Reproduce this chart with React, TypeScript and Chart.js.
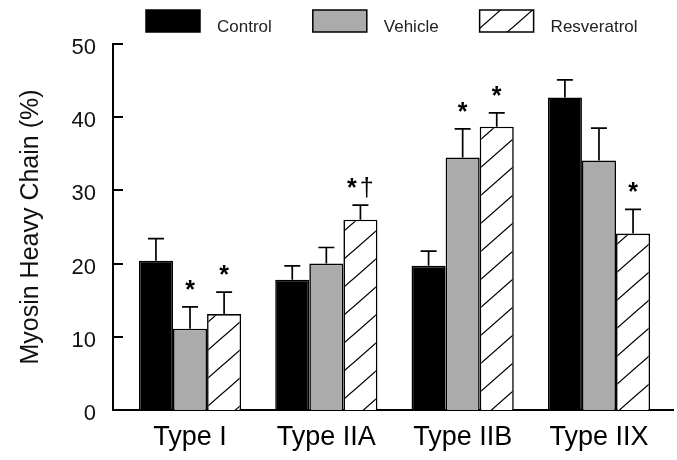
import React, { useEffect, useRef } from "react";
import { Chart, registerables } from "chart.js";

Chart.register(...registerables);

// ---- data ----
const categories = ["Type I", "Type IIA", "Type IIB", "Type IIX"];
const seriesNames = ["Control", "Vehicle", "Resveratrol"];
const controlValues = [20.4, 17.8, 19.7, 42.7];
const controlErrors = [3.0, 1.9, 2.0, 2.4];
const vehicleValues = [11.1, 20.0, 34.5, 34.1];
const vehicleErrors = [3.0, 2.2, 3.9, 4.4];
const resveratrolValues = [13.1, 26.0, 38.7, 24.1];
const resveratrolErrors = [3.0, 2.0, 1.9, 3.3];
const controlMarks = ["", "", "", ""];
const vehicleMarks = ["*", "", "*", ""];
const resveratrolMarks = ["*", "*\u2020", "*", "*"];
const yTicks = [0, 10, 20, 30, 40, 50];
const yTitle = "Myosin Heavy Chain (%)";

const FONT = '"Liberation Sans", Arial, Helvetica, sans-serif';

function makeHatch(): CanvasPattern | string {
  const c = document.createElement("canvas");
  const w = 32;
  const h = 28;
  c.width = w;
  c.height = h;
  const g = c.getContext("2d");
  if (!g) return "#fff";
  g.fillStyle = "#ffffff";
  g.fillRect(0, 0, w, h);
  g.strokeStyle = "#000000";
  g.lineWidth = 1.3;
  g.beginPath();
  for (const k of [-1, 0, 1]) {
    g.moveTo(k * w - w, 2 * h);
    g.lineTo(k * w + 2 * w, -h);
  }
  g.stroke();
  const p = g.createPattern(c, "repeat");
  return p || "#fff";
}

const errorsBySeries = [controlErrors, vehicleErrors, resveratrolErrors];
const marksBySeries = [controlMarks, vehicleMarks, resveratrolMarks];

const errorBarPlugin = {
  id: "errorBars",
  afterDatasetsDraw(chart: any) {
    const ctx = chart.ctx;
    const yScale = chart.scales.y;
    ctx.save();
    chart.data.datasets.forEach((ds: any, di: number) => {
      const meta = chart.getDatasetMeta(di);
      meta.data.forEach((bar: any, j: number) => {
        const v = ds.data[j].y;
        const e = errorsBySeries[di][j];
        const top = yScale.getPixelForValue(v + e);
        const x = bar.x;
        ctx.strokeStyle = "#000";
        ctx.lineWidth = 1.7;
        ctx.beginPath();
        ctx.moveTo(x, bar.y);
        ctx.lineTo(x, top);
        ctx.moveTo(x - 8, top);
        ctx.lineTo(x + 8, top);
        ctx.stroke();
        const mark = marksBySeries[di][j];
        if (mark) {
          const starFont = `bold 25px ${FONT}`;
          const otherFont = `25px ${FONT}`;
          ctx.fillStyle = "#000";
          ctx.textAlign = "left";
          ctx.textBaseline = "alphabetic";
          ctx.font = starFont;
          const m = ctx.measureText("*");
          const asc = m.actualBoundingBoxAscent;
          const desc = m.actualBoundingBoxDescent;
          const center = top - 22;
          const baseline = center + (asc - desc) / 2;
          const chars = Array.from(mark);
          const gap = 3;
          const widths = chars.map((ch) => {
            ctx.font = ch === "*" ? starFont : otherFont;
            return ctx.measureText(ch).width;
          });
          const total = widths.reduce((a, b) => a + b, 0) + gap * (chars.length - 1);
          let cx = x - total / 2;
          chars.forEach((ch, k) => {
            ctx.font = ch === "*" ? starFont : otherFont;
            ctx.fillText(ch, cx, baseline);
            cx += widths[k] + gap;
          });
        }
      });
    });
    ctx.restore();
  },
};

const innerTicksPlugin = {
  id: "innerTicks",
  afterDraw(chart: any) {
    const ctx = chart.ctx;
    const y = chart.scales.y;
    const left = chart.chartArea.left;
    ctx.save();
    ctx.strokeStyle = "#000";
    ctx.lineWidth = 2;
    ctx.beginPath();
    y.ticks.forEach((t: any) => {
      const py = Math.round(y.getPixelForValue(t.value));
      ctx.moveTo(left - 1, py);
      ctx.lineTo(left + 10, py);
    });
    ctx.stroke();
    ctx.restore();
  },
};

const legendPlugin = {
  id: "boxLegend",
  afterDraw(chart: any) {
    const ctx = chart.ctx;
    ctx.save();
    ctx.font = `17px ${FONT}`;
    ctx.textAlign = "left";
    ctx.textBaseline = "alphabetic";
    let x = 146;
    const boxW = 54;
    const boxH = 22;
    const boxTop = 10;
    chart.data.datasets.forEach((ds: any) => {
      ctx.fillStyle = ds.backgroundColor;
      ctx.fillRect(x, boxTop, boxW, boxH);
      ctx.strokeStyle = "#000";
      ctx.lineWidth = 1.5;
      ctx.strokeRect(x, boxTop, boxW, boxH);
      ctx.fillStyle = "#222";
      ctx.fillText(ds.label, x + boxW + 17, 32);
      x += boxW + 17 + ctx.measureText(ds.label).width + 41;
    });
    ctx.restore();
  },
};

export default function App() {
  const ref = useRef<HTMLCanvasElement | null>(null);

  useEffect(() => {
    if (!ref.current) return;
    const hatch = makeHatch();
    const toPoints = (arr: number[]) => arr.map((y, i) => ({ x: i, y }));
    const chart = new Chart(ref.current, {
      type: "bar",
      data: {
        datasets: [
          {
            label: seriesNames[0],
            data: toPoints(controlValues),
            backgroundColor: "#000000",
            borderColor: "#000000",
            borderWidth: 1.6,
          },
          {
            label: seriesNames[1],
            data: toPoints(vehicleValues),
            backgroundColor: "#ababab",
            borderColor: "#000000",
            borderWidth: 1.6,
          },
          {
            label: seriesNames[2],
            data: toPoints(resveratrolValues),
            backgroundColor: hatch as any,
            borderColor: "#000000",
            borderWidth: 1.6,
          },
        ],
      } as any,
      options: {
        animation: false,
        responsive: false,
        devicePixelRatio: 1,
        layout: { padding: { top: 44, right: 4, left: 0, bottom: 0 } },
        datasets: {
          bar: { categoryPercentage: 0.75, barPercentage: 1.0, grouped: true },
        },
        plugins: {
          legend: { display: false },
          tooltip: { enabled: false },
        },
        scales: {
          x: {
            type: "linear",
            offset: false,
            min: -0.565,
            max: 3.543,
            grid: { display: false, drawTicks: false, offset: false },
            border: { display: true, color: "#000", width: 2 },
            afterBuildTicks: (s: any) => {
              s.ticks = categories.map((_, i) => ({ value: i }));
            },
            afterFit: (s: any) => {
              s.height = 50;
            },
            ticks: {
              autoSkip: false,
              maxRotation: 0,
              minRotation: 0,
              padding: 11,
              color: "#000",
              font: { family: FONT, size: 27 },
              callback: (v: any) => categories[Number(v)] ?? "",
            },
          },
          y: {
            type: "linear",
            min: 0,
            max: 50,
            grid: { display: false, drawTicks: false },
            border: { display: true, color: "#000", width: 2 },
            afterBuildTicks: (s: any) => {
              s.ticks = yTicks.map((v) => ({ value: v }));
            },
            afterFit: (s: any) => {
              s.width = 113;
            },
            ticks: {
              padding: 17,
              labelOffset: 4,
              color: "#111",
              font: { family: FONT, size: 22 },
            },
            title: {
              display: true,
              text: yTitle,
              color: "#111",
              font: { family: FONT, size: 25 },
              padding: { top: 16, bottom: 0 },
            },
          },
        },
      } as any,
      plugins: [errorBarPlugin, innerTicksPlugin, legendPlugin],
    });
    return () => chart.destroy();
  }, []);

  return (
    <div
      style={{
        position: "fixed",
        left: 0,
        top: 0,
        width: 677,
        height: 460,
        background: "#fff",
      }}
    >
      <canvas ref={ref} width={677} height={460} style={{ width: 677, height: 460, display: "block" }} />
    </div>
  );
}
